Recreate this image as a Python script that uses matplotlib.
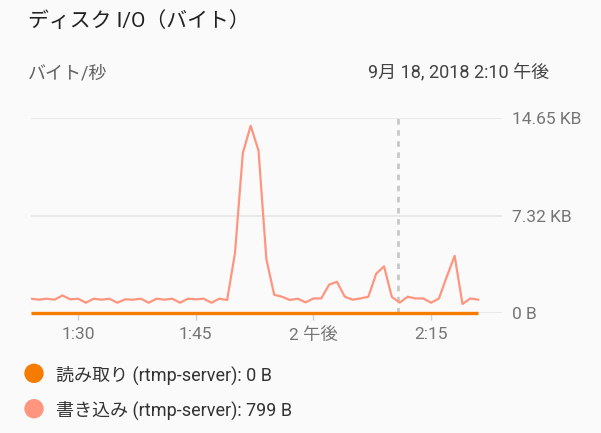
import numpy as np
import pandas as pd
import matplotlib
matplotlib.use("Agg")
import matplotlib.pyplot as plt
import matplotlib.dates as mdates
from matplotlib.patches import Ellipse

plt.rcParams['font.family'] = ['Roboto', 'Noto Sans CJK JP', 'DejaVu Sans']

# -----------------------------
# Data (bytes per second, one point per minute from 1:24 PM)
# -----------------------------
start_time = "2018-09-18 13:24"
write_bytes = [1100, 1025, 1100, 1025, 1350, 1050, 1100, 790, 1100, 1025,
               1100, 790, 1050, 1025, 1100, 790, 1100, 1025, 1100, 790,
               1100, 1050, 1100, 790, 1100, 1000, 4600, 12300, 14400, 12500,
               4150, 1400, 1250, 1000, 1100, 815, 1120, 1120, 2180, 2400,
               1250, 1025, 1120, 1250, 3020, 3590, 1230, 799, 1250, 1120,
               1120, 790, 1120, 2800, 4400, 690, 1120, 1025]
read_bytes = [0] * len(write_bytes)
times = pd.date_range(start_time, periods=len(write_bytes), freq="min")

y_ticks = [0, 7500, 15000]
y_labels = ["0 B", "7.32 KB", "14.65 KB"]
x_ticks = pd.to_datetime(["2018-09-18 13:30", "2018-09-18 13:45",
                          "2018-09-18 14:00", "2018-09-18 14:15"])
x_labels = ["1:30", "1:45", "2 午後", "2:15"]
x_range = pd.to_datetime(["2018-09-18 13:24", "2018-09-18 14:24"])
hover_time = pd.Timestamp("2018-09-18 14:10:45")

title = "ディスク I/O（バイト）"
unit = "バイト/秒"
date_text = "9月 18, 2018 2:10 午後"
legend_items = ["読み取り (rtmp-server): 0 B", "書き込み (rtmp-server): 799 B"]

read_color = "#f57c00"
write_color = "#ff957f"
bg = "#fafafa"

# -----------------------------
# Figure
# -----------------------------
W, H = 601, 433
fig = plt.figure(figsize=(W / 100, H / 100), dpi=100, facecolor=bg)


def px(x, y):
    return x / W, 1 - y / H


ax = fig.add_axes([31 / W, (H - 313) / H, (501.7 - 31) / W, 195 / H])
ax.set_facecolor(bg)

ax.plot(times, write_bytes, color=write_color, lw=1.6, zorder=3)
ax.plot(times, read_bytes, color=read_color, lw=2.4, zorder=4,
        solid_capstyle="butt", clip_on=False)
ax.axvline(hover_time, color="#c8c8c8", lw=2, ls=(0, (2, 2)), zorder=2)

ax.set_xlim(x_range[0], x_range[1])
ax.set_ylim(0, 15000)
ax.set_yticks(y_ticks)
ax.set_yticklabels(y_labels)
ax.yaxis.tick_right()
ax.tick_params(axis="y", length=0, pad=7.5, labelsize=12.5, labelcolor="#757575")
ax.set_xticks(x_ticks)
ax.set_xticklabels(x_labels)
ax.tick_params(axis="x", length=5, width=1, color="#d0d0d0", pad=5,
               labelsize=12.5, labelcolor="#757575")
ax.grid(axis="y", color="#e6e6e6", lw=1.2)
for s in ax.spines.values():
    s.set_visible(False)

# -----------------------------
# Texts and legend
# -----------------------------
fig.text(*px(28, 21), title, fontsize=15, color="#212121", va="center")
fig.text(*px(28, 73.5), unit, fontsize=13, color="#616161", va="center")
fig.text(*px(549, 73.5), date_text, fontsize=13, color="#424242",
         va="center", ha="right")

for i, (label, c) in enumerate(zip(legend_items, [read_color, write_color])):
    y = 373.3 + i * 35.4
    fig.add_artist(Ellipse(px(34, y), 18 / W, 18 / H,
                           transform=fig.transFigure, color=c))
    fig.text(*px(56.5, y + 2), label, fontsize=13, color="#333333", va="center")

fig.savefig("out.png", dpi=100, facecolor=bg)
